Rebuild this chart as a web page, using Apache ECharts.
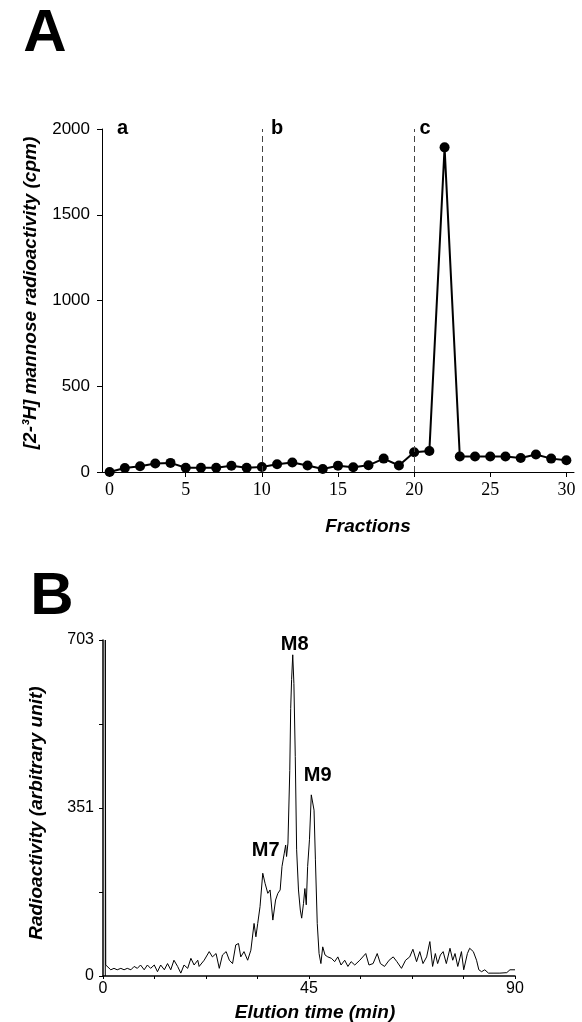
<!DOCTYPE html>
<html>
<head>
<meta charset="utf-8">
<script src="https://cdn.jsdelivr.net/npm/echarts@6/dist/echarts.min.js"></script>
<style>
html,body{margin:0;padding:0;background:#fff;}
#chart{width:582px;height:1022px;}
</style>
</head>
<body>
<div id="chart"></div>
<script>
// ---- Panel A data ----
var fractions = ['0','1','2','3','4','5','6','7','8','9','10','11','12','13','14','15','16','17','18','19','20','21','22','23','24','25','26','27','28','29','30'];
var mannoseCpm = [0, 23, 34, 50, 53, 25, 25, 25, 36, 25, 29, 45, 55, 38, 17, 37, 28, 39, 78, 38, 115, 122, 1893, 90, 90, 90, 90, 82, 102, 78, 68];
var yTicksA = [0, 500, 1000, 1500, 2000];
var poolLines = ['10', '20'];
var poolLabels = ['a', 'b', 'c'];

// ---- Panel B data ----
var elutionTime = [0.5, 0.5, 0.6, 0.9, 1.7, 2.4, 3.1, 3.9, 4.6, 5.3, 6.1, 6.8, 7.5, 8.2, 9.0, 9.7, 10.4, 11.2, 11.9, 12.6, 13.4, 14.1, 14.8, 15.5, 16.3, 17.0, 17.7, 18.5, 19.2, 19.9, 20.7, 21.0, 22.1, 23.2, 23.9, 24.7, 25.4, 26.1, 26.9, 27.6, 28.3, 29.0, 29.6, 30.1, 30.8, 31.6, 32.3, 33.0, 33.4, 33.8, 34.3, 34.9, 35.4, 36.0, 36.5, 37.1, 37.7, 38.2, 38.7, 39.1, 39.6, 39.9, 40.1, 40.4, 40.8, 41.0, 41.2, 41.45, 41.7, 42.0, 42.3, 42.7, 43.1, 43.4, 43.8, 44.1, 44.4, 44.7, 45.1, 45.5, 45.8, 46.1, 46.4, 46.8, 47.2, 47.6, 48.0, 48.5, 49.1, 49.9, 50.6, 51.3, 52.0, 52.8, 53.5, 54.2, 55.0, 56.1, 57.4, 58.1, 59.0, 59.9, 60.6, 61.5, 62.5, 63.4, 64.2, 65.2, 66.1, 67.0, 67.7, 68.5, 69.2, 69.9, 70.7, 71.4, 72.0, 72.6, 73.1, 73.7, 74.3, 75.0, 75.8, 76.4, 76.9, 77.5, 78.3, 78.8, 79.6, 80.1, 80.9, 81.6, 82.1, 82.7, 83.4, 84.2, 85.2, 86.7, 88.2, 88.9, 90.0];
var radioactivity = [0, 703, 23, 20, 13, 16, 13, 16, 13, 16, 13, 20, 16, 23, 13, 23, 16, 23, 9, 23, 13, 26, 13, 33, 20, 6, 23, 16, 37, 23, 33, 20, 33, 51, 40, 47, 16, 44, 51, 33, 26, 65, 68, 40, 51, 33, 54, 110, 82, 110, 145, 215, 194, 173, 180, 117, 159, 173, 180, 229, 257, 274, 250, 278, 430, 560, 620, 672, 612, 459, 264, 180, 138, 121, 152, 183, 149, 229, 285, 379, 382, 347, 243, 110, 47, 26, 61, 44, 40, 37, 30, 40, 23, 33, 20, 30, 23, 33, 47, 23, 26, 47, 26, 20, 33, 40, 30, 16, 33, 40, 56, 30, 51, 26, 40, 72, 20, 47, 26, 44, 51, 26, 58, 33, 47, 20, 51, 13, 47, 58, 51, 33, 13, 9, 13, 6, 6, 6, 7, 13, 13];
var yLabelsB = ['0', '351', '703'];
var xLabelsB = ['0', '45', '90'];
var peakNames = ['M7', 'M8', 'M9'];
var peakTimes = [34.9, 41.45, 45.8];
var peakValues = [215, 672, 382];

var SANS = 'Liberation Sans';
var SERIF = 'Liberation Serif';

var seriesB = elutionTime.map(function (t, i) { return [t, radioactivity[i]]; });
var peakOffsets = [[3, -23], [2, -10], [5, -18]];

var chart = echarts.init(document.getElementById('chart'), null, {renderer: 'canvas'});
var option = {
  animation: false,
  backgroundColor: '#ffffff',
  grid: [
    {left: 102, top: 129, width: 472, height: 343},
    {left: 103, top: 640, width: 412, height: 336}
  ],
  xAxis: [
    {
      gridIndex: 0, type: 'category', data: fractions, boundaryGap: true,
      axisLine: {show: true, lineStyle: {color: '#000', width: 1}},
      axisTick: {show: true, alignWithLabel: true, interval: 4, length: 5, lineStyle: {color: '#000'}},
      axisLabel: {interval: 4, color: '#000', fontFamily: SERIF, fontSize: 18, margin: 9},
      splitLine: {show: false}
    },
    {
      gridIndex: 1, type: 'value', min: 0, max: 90, interval: 11.25,
      axisLine: {show: true, lineStyle: {color: '#000', width: 1.5}},
      axisTick: {show: true, length: 3, lineStyle: {color: '#000'}},
      axisLabel: {
        color: '#000', fontFamily: SANS, fontSize: 16, margin: 5, showMinLabel: true, showMaxLabel: true,
        formatter: function (v) {
          var idx = [0, 45, 90].indexOf(Math.round(v * 100) / 100);
          return idx >= 0 ? xLabelsB[idx] : '';
        }
      },
      splitLine: {show: false}
    }
  ],
  yAxis: [
    {
      gridIndex: 0, type: 'value', min: yTicksA[0], max: yTicksA[yTicksA.length - 1], interval: 500,
      axisLine: {show: true, lineStyle: {color: '#000', width: 1}},
      axisTick: {show: true, length: 5, lineStyle: {color: '#000'}},
      axisLabel: {color: '#000', fontFamily: SANS, fontSize: 17, margin: 12,
        formatter: function (v) { return String(v); }},
      splitLine: {show: false}
    },
    {
      gridIndex: 1, type: 'value', min: 0, max: 703, interval: 175.75,
      axisLine: {show: true, lineStyle: {color: '#000', width: 1.5}},
      axisTick: {show: true, length: 4, lineStyle: {color: '#000'}},
      axisLabel: {
        color: '#000', fontFamily: SANS, fontSize: 16, margin: 9,
        formatter: function (v) {
          if (v === 0) return yLabelsB[0];
          if (Math.abs(v - 351.5) < 1) return yLabelsB[1];
          if (Math.abs(v - 703) < 1) return yLabelsB[2];
          return '';
        }
      },
      splitLine: {show: false}
    }
  ],
  series: [
    {
      type: 'line', xAxisIndex: 0, yAxisIndex: 0, data: mannoseCpm,
      symbol: 'circle', symbolSize: 10, showSymbol: true,
      itemStyle: {color: '#000'},
      lineStyle: {color: '#000', width: 2},
      markLine: {
        silent: true, symbol: ['none', 'none'],
        label: {show: false},
        lineStyle: {color: '#444', type: [6, 4], width: 1},
        data: poolLines.map(function (c) { return {xAxis: c}; })
      }
    },
    {
      type: 'line', xAxisIndex: 1, yAxisIndex: 1, data: seriesB,
      showSymbol: false, symbol: 'none',
      lineStyle: {color: '#000', width: 1},
      markPoint: {
        symbol: 'circle', symbolSize: 0, silent: true,
        label: {show: true, position: 'inside', color: '#000', fontFamily: SANS, fontWeight: 'bold', fontSize: 20},
        data: peakNames.map(function (n, i) {
          return {coord: [peakTimes[i], peakValues[i]], value: n,
            label: {formatter: n, offset: peakOffsets[i]}};
        })
      }
    }
  ],
  graphic: [
    {type: 'text', x: 45, y: 34, style: {text: 'A', font: 'bold 60px "Liberation Sans"', fill: '#000', textAlign: 'center', textVerticalAlign: 'middle'}},
    {type: 'text', x: 52, y: 597, style: {text: 'B', font: 'bold 60px "Liberation Sans"', fill: '#000', textAlign: 'center', textVerticalAlign: 'middle'}},
    {type: 'text', x: 122.5, y: 128, style: {text: poolLabels[0], font: 'bold 20px "Liberation Sans"', fill: '#000', textAlign: 'center', textVerticalAlign: 'middle'}},
    {type: 'text', x: 277, y: 128, style: {text: poolLabels[1], font: 'bold 20px "Liberation Sans"', fill: '#000', textAlign: 'center', textVerticalAlign: 'middle'}},
    {type: 'text', x: 425, y: 128, style: {text: poolLabels[2], font: 'bold 20px "Liberation Sans"', fill: '#000', textAlign: 'center', textVerticalAlign: 'middle'}},
    {type: 'text', x: 31, y: 293, rotation: Math.PI / 2, style: {text: '[2-\u00B3H] mannose radioactivity (cpm)', font: 'italic bold 19px "Liberation Sans"', fill: '#000', textAlign: 'center', textVerticalAlign: 'middle'}},
    {type: 'text', x: 368, y: 527, style: {text: 'Fractions', font: 'italic bold 19px "Liberation Sans"', fill: '#000', textAlign: 'center', textVerticalAlign: 'middle'}},
    {type: 'text', x: 37, y: 813, rotation: Math.PI / 2, style: {text: 'Radioactivity (arbitrary unit)', font: 'italic bold 19px "Liberation Sans"', fill: '#000', textAlign: 'center', textVerticalAlign: 'middle'}},
    {type: 'text', x: 315, y: 1013, style: {text: 'Elution time (min)', font: 'italic bold 19px "Liberation Sans"', fill: '#000', textAlign: 'center', textVerticalAlign: 'middle'}}
  ]
};
chart.setOption(option);
</script>
</body>
</html>
